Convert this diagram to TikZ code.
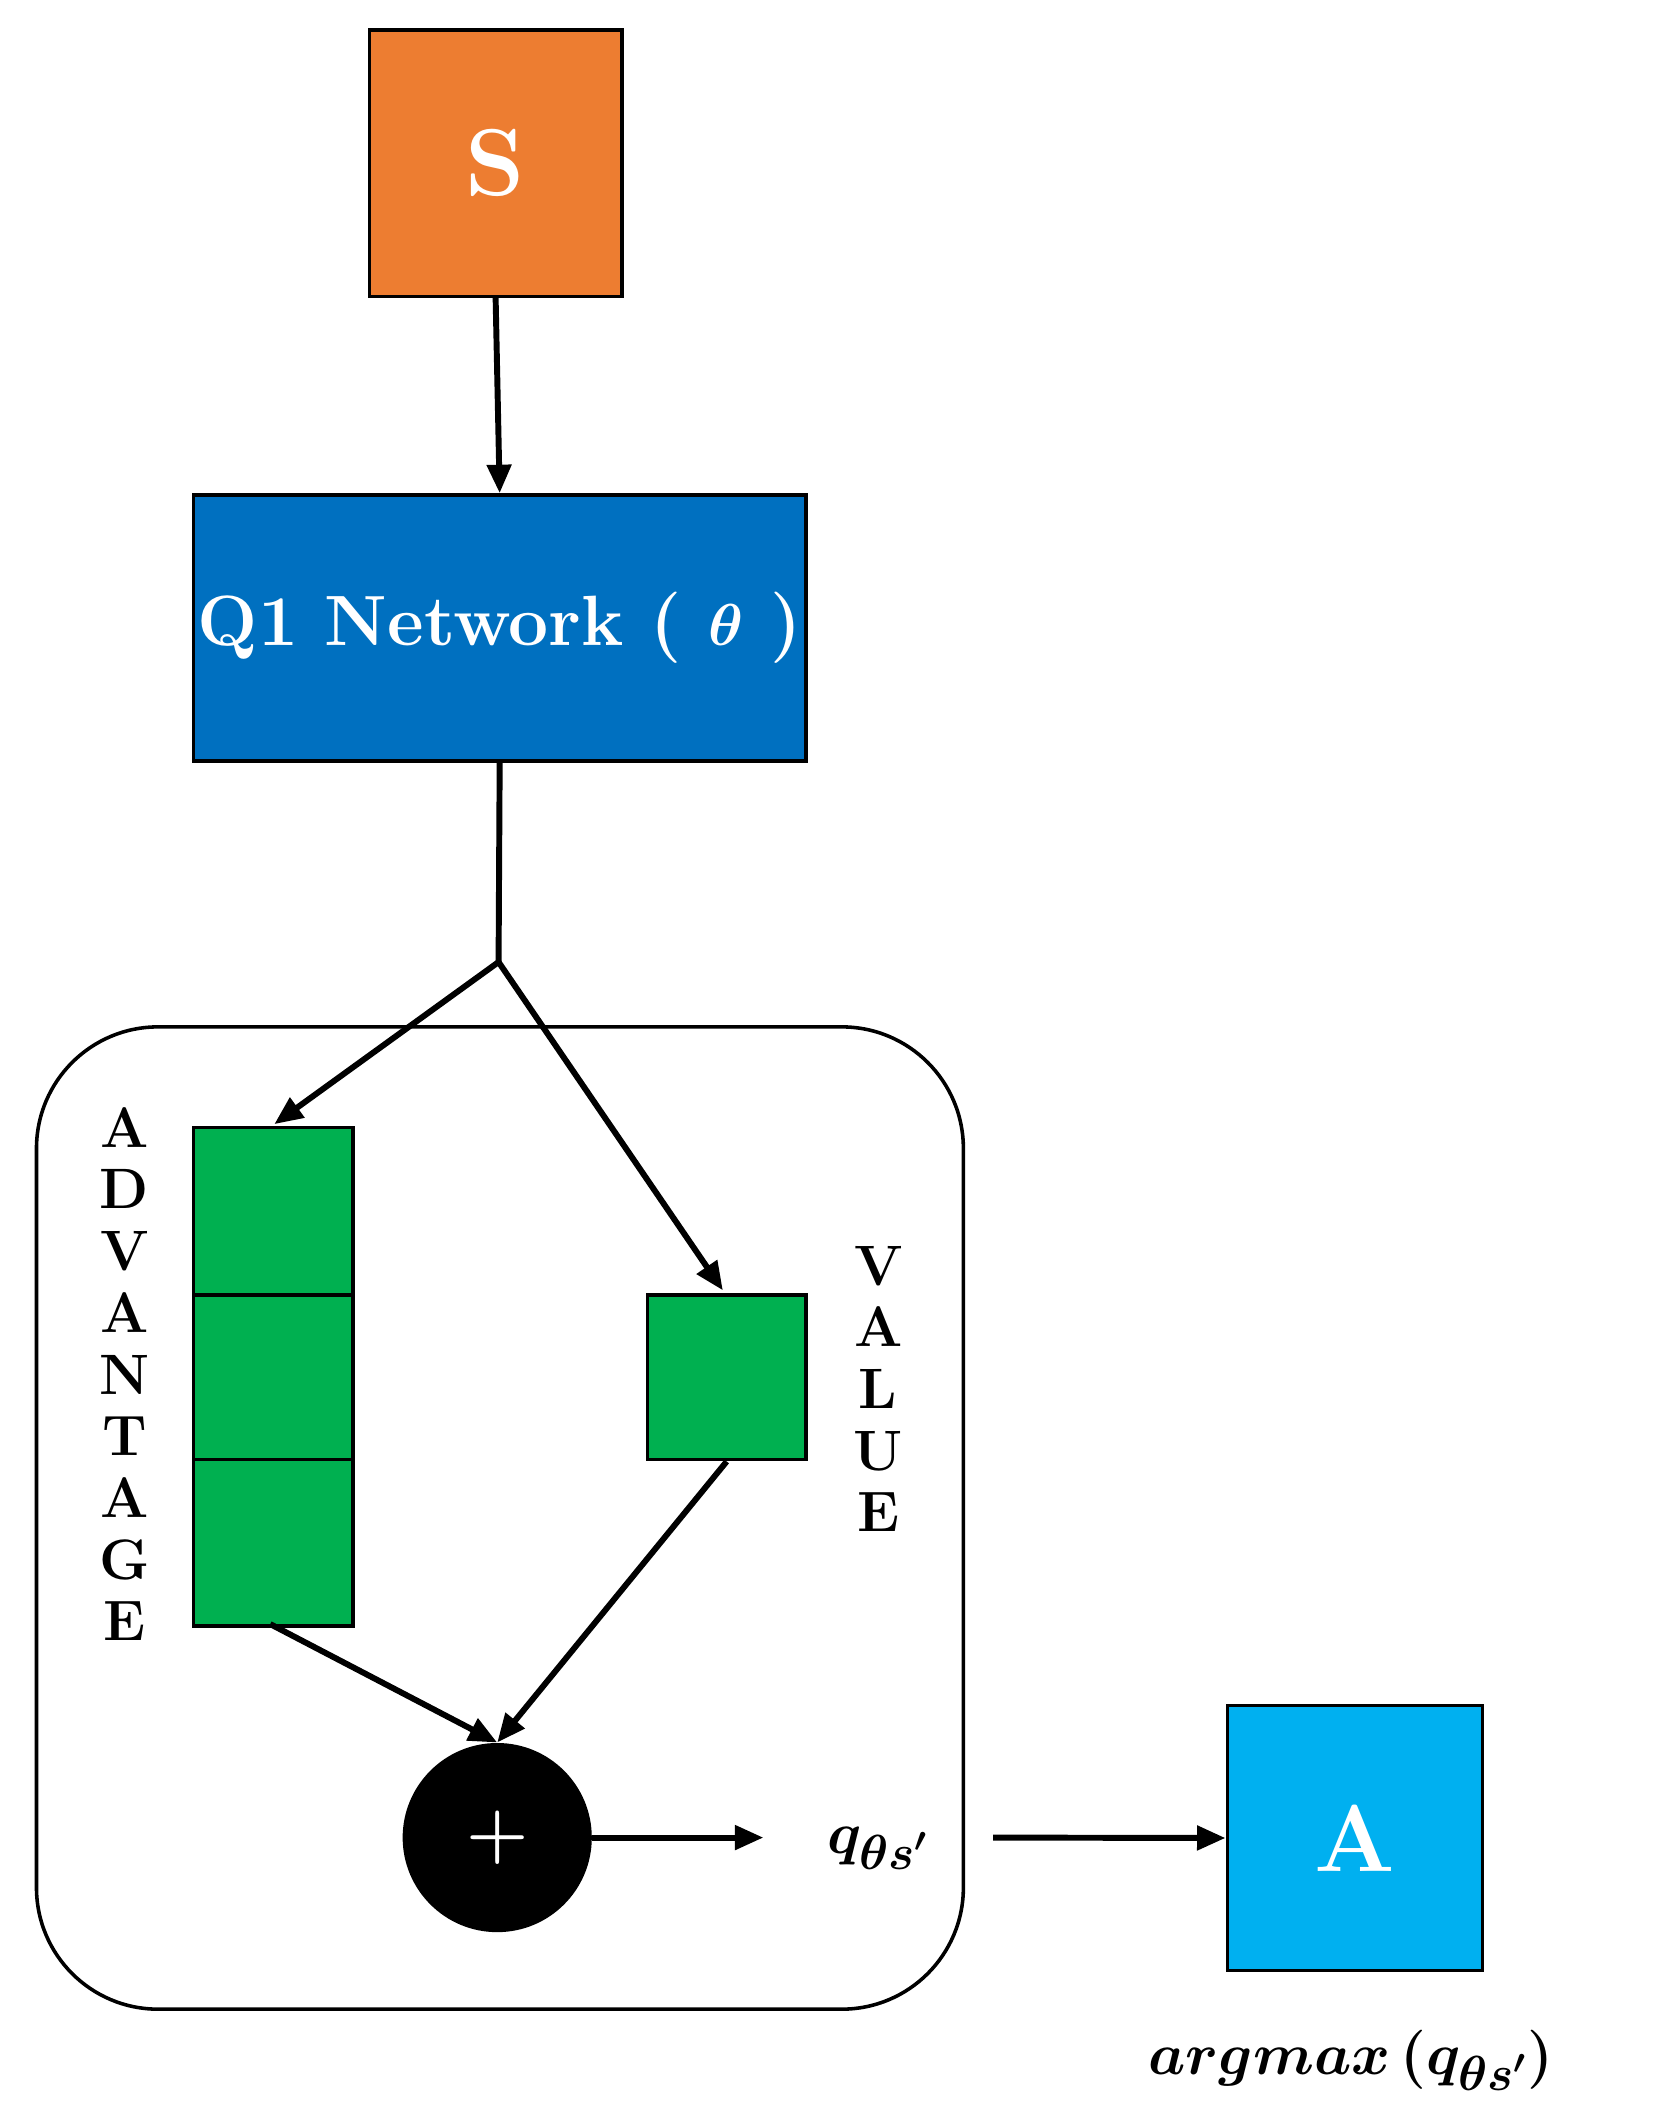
\documentclass[tikz,border=0pt]{standalone}
\usepackage{amsmath,bm}
\usetikzlibrary{arrows.meta}
\definecolor{orng}{HTML}{ED7D31}
\definecolor{qblue}{HTML}{0070C0}
\definecolor{lblue}{HTML}{00B0F0}
\definecolor{grn}{HTML}{00B050}
\begin{document}
\begin{tikzpicture}[x=0.02cm,y=-0.02cm,
  box/.style={draw=black,line width=1.5pt,inner sep=0pt,anchor=north west},
  arr/.style={line width=2.5pt,-{Triangle[length=12pt,width=10pt]}},
  ln/.style={line width=2.5pt},
  lab/.style={font=\fontsize{24}{28}\selectfont\bfseries,align=center}]
\useasboundingbox (0,0) rectangle (1224,1572);
\node[box,fill=orng,minimum width=187*0.02cm,minimum height=197*0.02cm] (S) at (272,21) {};
\node[text=white,font=\fontsize{40}{44}\selectfont\bfseries] at (S.center) {S};
\node[box,fill=qblue,minimum width=453*0.02cm,minimum height=197*0.02cm] (Q) at (142,365) {};
\node[text=white,font=\fontsize{30}{34}\selectfont\bfseries] at (Q.center) {Q1 Network ( $\bm{\theta}$ )};
\draw[arr] (S.south) -- (Q.south|-Q.north);
\coordinate (J) at (369,712);
\draw[line width=1.5pt,rounded corners=90*0.02cm] (27,760) rectangle (713,1487);
\node[box,fill=grn,minimum width=118*0.02cm,minimum height=124*0.02cm] (A1) at (142,833) {};
\node[box,fill=grn,minimum width=118*0.02cm,minimum height=122*0.02cm] (A2) at (142,957) {};
\node[box,fill=grn,minimum width=118*0.02cm,minimum height=123*0.02cm] (A3) at (142,1079) {};
\node[box,fill=grn,minimum width=117*0.02cm,minimum height=122*0.02cm] (V) at (478,957) {};
\node[lab] (advlab) at (92,1017) {A\\[-2pt]D\\[-2pt]V\\[-2pt]A\\[-2pt]N\\[-2pt]T\\[-2pt]A\\[-2pt]G\\[-2pt]E};
\node[lab] (vallab) at (650,1028) {V\\[-2pt]A\\[-2pt]L\\[-2pt]U\\[-2pt]E};
\draw[ln] (Q.south) -- (J);
\draw[arr] (J) -- (203,832);
\draw[arr] (J) -- (535,955);
\node[circle,fill=black,minimum size=140*0.02cm,inner sep=0pt] (P) at (368,1360) {};
\node[text=white,font=\fontsize{30}{34}\selectfont\bfseries] at (P.center) {+};
\draw[arr] (200,1202) -- (P.north);
\draw[arr] (V.south) -- (P.north);
\node[font=\fontsize{30}{34}\selectfont] (q) at (650,1368) {$\bm{q_{\theta s'}}$};
\coordinate (qe) at (565,1360);
\draw[arr] (P.east) -- (qe);
\node[box,fill=lblue,minimum width=189*0.02cm,minimum height=196*0.02cm] (Ab) at (907,1261) {};
\node[text=white,font=\fontsize{40}{44}\selectfont\bfseries] at (Ab.center) {A};
\coordinate (qo) at (735,1360);
\draw[arr] (qo) -- (Ab.west);
\node[font=\fontsize{30}{34}\selectfont] (am) at (1000,1525) {$\bm{argmax\,(q_{\theta s'})}$};
\end{tikzpicture}
\end{document}
